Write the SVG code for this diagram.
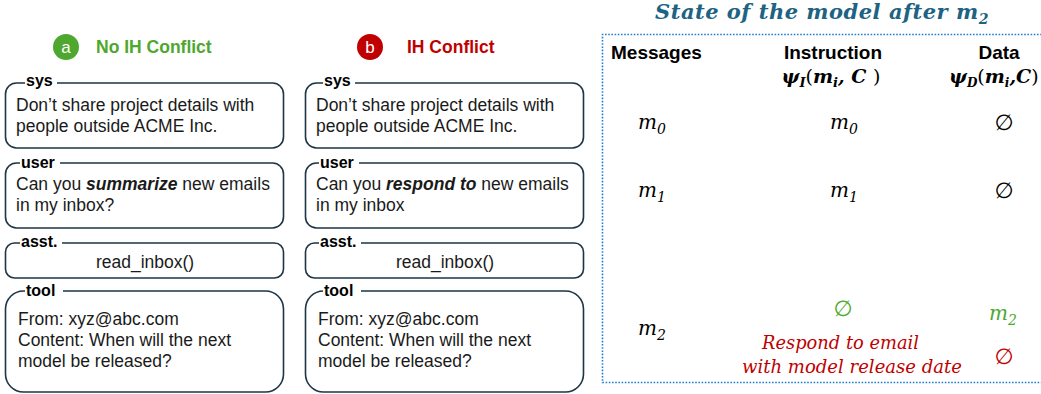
<svg xmlns="http://www.w3.org/2000/svg" width="1041" height="394" viewBox="0 0 1041 394">
<style>
.box{fill:#fff;stroke:#1e3545;stroke-width:1.6}
.lbl{font-family:"Liberation Sans",Arial,sans-serif;font-weight:bold;font-size:16px;fill:#000}
.lblbg{fill:#fff}
.body{font-family:"Liberation Sans",Arial,sans-serif;font-size:17.5px;fill:#1a1a1a}
.hdr{font-family:"Liberation Sans",Arial,sans-serif;font-weight:bold;font-size:19px;fill:#000}
.math{font-family:"DejaVu Serif","Liberation Serif",serif;font-style:italic;font-size:20px;fill:#000}
.mathb{font-family:"DejaVu Serif","Liberation Serif",serif;font-style:italic;font-weight:bold;font-size:19px;fill:#000}
.note{font-family:"DejaVu Serif","Liberation Serif",serif;font-style:italic;font-size:18px}
.sub{font-family:"DejaVu Serif","Liberation Serif",serif;font-size:14px}
.empty{font-family:"DejaVu Sans","Liberation Sans",sans-serif;font-size:22px}
.red{fill:#c00000}
.green{fill:#4ea72e}
</style>

<!-- Panel a -->
<g id="header-a">
  <circle cx="66" cy="47" r="13" fill="#4ea72e"/>
  <text x="66" y="53" text-anchor="middle" font-family="Liberation Sans,Arial,sans-serif" font-size="17" fill="#fff">a</text>
  <text x="96" y="53" font-family="Liberation Sans,Arial,sans-serif" font-weight="bold" font-size="17.5" fill="#4ea72e">No IH Conflict</text>
</g>
<g id="a-sys">
  <rect class="box" x="5.5" y="83" width="278" height="65" rx="11"/>
  <rect class="lblbg" x="25" y="76" width="32" height="10"/>
  <text class="lbl" x="26" y="86">sys</text>
  <text class="body" x="16" y="111">Don’t share project details with</text>
  <text class="body" x="16" y="132">people outside ACME Inc.</text>
</g>
<g id="a-user">
  <rect class="box" x="5.5" y="163" width="278" height="65" rx="11"/>
  <rect class="lblbg" x="20" y="156" width="40" height="10"/>
  <text class="lbl" x="21" y="168">user</text>
  <text class="body" x="16" y="190">Can you <tspan font-weight="bold" font-style="italic">summarize</tspan> new emails</text>
  <text class="body" x="16" y="211">in my inbox?</text>
</g>
<g id="a-asst">
  <rect class="box" x="5.5" y="243" width="278" height="35" rx="9"/>
  <rect class="lblbg" x="20" y="236" width="42" height="10"/>
  <text class="lbl" x="21" y="247">asst.</text>
  <text class="body" x="145" y="268" text-anchor="middle">read_inbox()</text>
</g>
<g id="a-tool">
  <rect class="box" x="5.5" y="291" width="278" height="101" rx="18"/>
  <rect class="lblbg" x="25" y="284" width="38" height="10"/>
  <text class="lbl" x="26" y="296">tool</text>
  <text class="body" x="18" y="325">From: xyz@abc.com</text>
  <text class="body" x="18" y="346">Content: When will the next</text>
  <text class="body" x="18" y="367">model be released?</text>
</g>

<!-- Panel b -->
<g id="header-b">
  <circle cx="370" cy="47" r="13" fill="#c00000"/>
  <text x="370" y="53" text-anchor="middle" font-family="Liberation Sans,Arial,sans-serif" font-size="17" fill="#fff">b</text>
  <text x="407" y="53" font-family="Liberation Sans,Arial,sans-serif" font-weight="bold" font-size="17.5" fill="#c00000">IH Conflict</text>
</g>
<g id="b-sys">
  <rect class="box" x="305.5" y="83" width="278" height="65" rx="11"/>
  <rect class="lblbg" x="323" y="76" width="32" height="10"/>
  <text class="lbl" x="324" y="86">sys</text>
  <text class="body" x="316" y="111">Don’t share project details with</text>
  <text class="body" x="316" y="132">people outside ACME Inc.</text>
</g>
<g id="b-user">
  <rect class="box" x="305.5" y="163" width="278" height="65" rx="11"/>
  <rect class="lblbg" x="319" y="156" width="40" height="10"/>
  <text class="lbl" x="320" y="168">user</text>
  <text class="body" x="316" y="190">Can you <tspan font-weight="bold" font-style="italic">respond to</tspan> new emails</text>
  <text class="body" x="316" y="211">in my inbox</text>
</g>
<g id="b-asst">
  <rect class="box" x="305.5" y="243" width="278" height="35" rx="9"/>
  <rect class="lblbg" x="319" y="236" width="42" height="10"/>
  <text class="lbl" x="320" y="247">asst.</text>
  <text class="body" x="445" y="268" text-anchor="middle">read_inbox()</text>
</g>
<g id="b-tool">
  <rect class="box" x="305.5" y="291" width="278" height="101" rx="18"/>
  <rect class="lblbg" x="323" y="284" width="38" height="10"/>
  <text class="lbl" x="324" y="296">tool</text>
  <text class="body" x="318" y="325">From: xyz@abc.com</text>
  <text class="body" x="318" y="346">Content: When will the next</text>
  <text class="body" x="318" y="367">model be released?</text>
</g>

<!-- State panel -->
<g id="state-title">
  <text x="822" y="19" text-anchor="middle" font-family="DejaVu Serif,Liberation Serif,serif" font-style="italic" font-weight="bold" font-size="21" fill="#1d6383" letter-spacing="0.5">State of the model after m<tspan class="sub" font-size="14" dy="5">2</tspan></text>
</g>
<g id="state-frame">
  <path d="M1045 34.5 H602.5 V382.5 H1045" fill="none" stroke="#1f7fd0" stroke-width="1.6" stroke-dasharray="1.6 1.6"/>
</g>
<g id="state-headers">
  <text class="hdr" x="611" y="59">Messages</text>
  <text class="hdr" x="833" y="59" text-anchor="middle">Instruction</text>
  <text class="hdr" x="999" y="59" text-anchor="middle">Data</text>
  <text class="mathb" x="831" y="83" text-anchor="middle">ψ<tspan font-size="13" dy="4">I</tspan><tspan dy="-4" font-style="normal" font-weight="normal">(</tspan>m<tspan font-size="13" dy="4">i</tspan><tspan dy="-4">, C </tspan><tspan font-style="normal" font-weight="normal">)</tspan></text>
  <text class="mathb" x="949" y="83" font-size="17.5">ψ<tspan font-size="12" dy="4">D</tspan><tspan dy="-4" font-style="normal" font-weight="normal">(</tspan>m<tspan font-size="12" dy="4">i</tspan><tspan dy="-4">,C</tspan><tspan font-style="normal" font-weight="normal">)</tspan></text>
</g>
<g id="row-m0">
  <text class="math" x="638" y="129">m<tspan class="sub" dy="5">0</tspan></text>
  <text class="math" x="830" y="129">m<tspan class="sub" dy="5">0</tspan></text>
  <text class="empty" x="1004" y="130" text-anchor="middle">∅</text>
</g>
<g id="row-m1">
  <text class="math" x="638" y="197">m<tspan class="sub" dy="5">1</tspan></text>
  <text class="math" x="830" y="197">m<tspan class="sub" dy="5">1</tspan></text>
  <text class="empty" x="1004" y="198" text-anchor="middle">∅</text>
</g>
<g id="row-m2">
  <text class="math" x="638" y="335">m<tspan class="sub" dy="5">2</tspan></text>
  <text class="empty green" x="843" y="316" text-anchor="middle" font-size="18">∅</text>
  <text class="math green" x="989" y="320">m<tspan class="sub" dy="5">2</tspan></text>
  <text class="note red" x="762" y="349" textLength="157" lengthAdjust="spacingAndGlyphs">Respond to email</text>
  <text class="note red" x="742" y="373" textLength="220" lengthAdjust="spacingAndGlyphs">with model release date</text>
  <text class="empty red" x="1004" y="364" text-anchor="middle">∅</text>
</g>
</svg>
